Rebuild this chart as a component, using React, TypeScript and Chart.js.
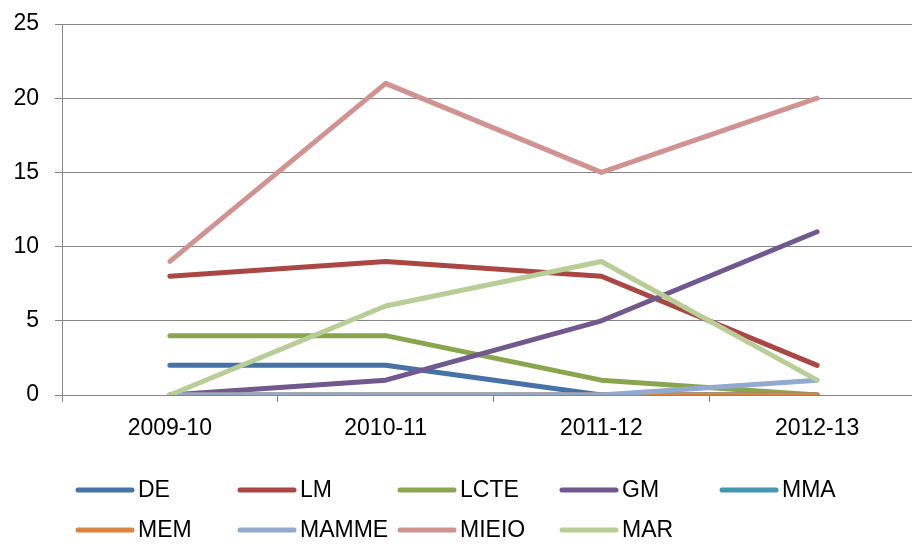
import React, { useEffect, useRef } from "react";
import { Chart, registerables } from "chart.js";

Chart.register(...registerables);

const categories = ["2009-10", "2010-11", "2011-12", "2012-13"];
const seriesNames = ["DE", "LM", "LCTE", "GM", "MMA", "MEM", "MAMME", "MIEIO", "MAR"];
const DE = [2, 2, 0, 0];
const LM = [8, 9, 8, 2];
const LCTE = [4, 4, 1, 0];
const GM = [0, 1, 5, 11];
const MMA = [0, 0, 0, 0];
const MEM = [0, 0, 0, 0];
const MAMME = [0, 0, 0, 1];
const MIEIO = [9, 21, 15, 20];
const MAR = [0, 6, 9, 1];
const seriesValues = [DE, LM, LCTE, GM, MMA, MEM, MAMME, MIEIO, MAR];
const colors = ["#4572A7", "#AA4643", "#89A54E", "#71588F", "#4198AF", "#DB843D", "#93A9CF", "#D19392", "#B9CD96"];
const yTicks = [0, 5, 10, 15, 20, 25];

const FONT = "'Liberation Sans', Arial, sans-serif";

const legendPlugin = {
  id: "customLegend",
  afterDraw(chart: any) {
    const ctx = chart.ctx;
    const cols = [78, 240, 400, 562, 722];
    const rows = [490, 530];
    ctx.save();
    chart.data.datasets.forEach((ds: any, i: number) => {
      const x = cols[i % 5];
      const y = rows[Math.floor(i / 5)];
      ctx.strokeStyle = ds.borderColor;
      ctx.lineWidth = 5;
      ctx.lineCap = "round";
      ctx.beginPath();
      ctx.moveTo(x, y);
      ctx.lineTo(x + 54, y);
      ctx.stroke();
      ctx.fillStyle = "#000";
      ctx.font = `23px ${FONT}`;
      ctx.textBaseline = "middle";
      ctx.textAlign = "left";
      ctx.fillText(ds.label, x + 60, y + 1);
    });
    ctx.restore();
  },
};

export default function App() {
  const ref = useRef<HTMLCanvasElement>(null);
  useEffect(() => {
    document.body.style.margin = "0";
    const chart = new Chart(ref.current!, {
      type: "line",
      data: {
        labels: categories,
        datasets: seriesNames.map((name, i) => ({
          label: name,
          data: seriesValues[i],
          borderColor: colors[i],
          backgroundColor: colors[i],
          borderWidth: 5,
          pointRadius: 0,
          tension: 0,
          borderCapStyle: "round",
          borderJoinStyle: "round",
          order: seriesNames.length - i,
        })),
      },
      options: {
        animation: false,
        responsive: false,
        layout: { padding: { top: 24, right: 6, bottom: 100, left: 0 } },
        plugins: { legend: { display: false }, tooltip: { enabled: false } },
        scales: {
          x: {
            offset: true,
            grid: { drawOnChartArea: false, drawTicks: true, tickLength: 7, color: "#868686", offset: true },
            border: { color: "#868686", width: 1 },
            ticks: { color: "#000", font: { family: FONT, size: 23 }, padding: 13, maxRotation: 0 },
            afterFit: (s: any) => { s.height = 49; s.paddingLeft = 0; s.paddingRight = 0; },
          },
          y: {
            min: 0,
            max: 25,
            afterBuildTicks: (s: any) => { s.ticks = yTicks.map((v) => ({ value: v })); },
            grid: { color: "#868686", tickLength: 7, lineWidth: 1 },
            border: { color: "#868686", width: 1 },
            ticks: { color: "#000", font: { family: FONT, size: 23 }, padding: 16 },
            afterFit: (s: any) => { s.width = 62; s.paddingTop = 0; s.paddingBottom = 0; },
          },
        },
      },
      plugins: [legendPlugin],
    });
    return () => chart.destroy();
  }, []);
  return (
    <div style={{ width: 912, height: 544, overflow: "hidden" }}>
      <canvas ref={ref} width={931} height={544} style={{ display: "block" }} />
    </div>
  );
}
